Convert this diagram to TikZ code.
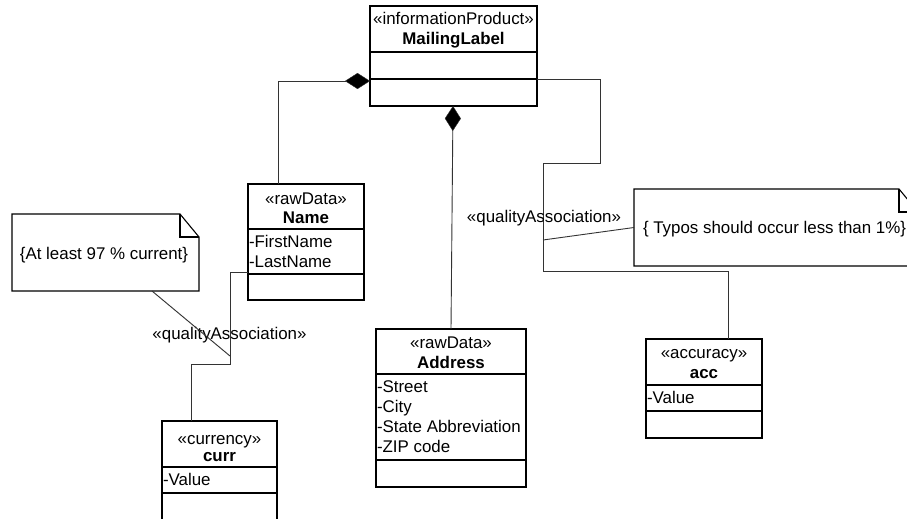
\documentclass[tikz,border=0pt]{standalone}
\usepackage{fontspec}
\setmainfont{Liberation Sans}
\usetikzlibrary{arrows.meta}

\begin{document}
\begin{tikzpicture}[x=1pt,y=-1pt,
  every node/.style={font=\fontsize{16.9}{20}\selectfont, inner sep=0pt, outer sep=0pt},
  umlbox/.style={draw=black, line width=1.2pt, anchor=north west},
  divider/.style={line width=1.2pt},
  stereo/.style={anchor=base},
  cname/.style={anchor=base, font=\fontsize{16.9}{20}\selectfont\bfseries},
  attr/.style={anchor=base west},
  conn/.style={draw=black!80, line width=0.9pt},
  comp/.style={conn, -{Diamond[length=25pt,width=16pt,fill=black,line width=0.4pt]}},
  noteframe/.style={line width=1.1pt},
  notefold/.style={line width=1.6pt},
  qlabel/.style={anchor=base}
]
\useasboundingbox (0,0) rectangle (907,519);
\fill[white] (0,0) rectangle (907,519);
\clip (0,0) rectangle (907,519);

% ---- class MailingLabel
\node[umlbox, minimum width=167pt, minimum height=100pt] (ml) at (370,6) {};
\draw[divider] (ml.west |- 0,52) -- (ml.east |- 0,52);
\draw[divider] (ml.west |- 0,79) -- (ml.east |- 0,79);
\node[stereo] (mlst) at (453.5,25) {«informationProduct»};
\node[cname]  (mlnm) at (453.5,45) {MailingLabel};

% ---- class Name
\node[umlbox, minimum width=116pt, minimum height=116pt] (name) at (248,184) {};
\draw[divider] (name.west |- 0,229) -- (name.east |- 0,229);
\draw[divider] (name.west |- 0,274) -- (name.east |- 0,274);
\node[stereo] (namest) at (306,204) {«rawData»};
\node[cname]  (namenm) at (306,223) {Name};
\node[attr] (namea1) at (249,247) {-FirstName};
\node[attr] (namea2) at (249,267) {-LastName};

% ---- class Address
\node[umlbox, minimum width=150pt, minimum height=158pt] (addr) at (376,329) {};
\draw[divider] (addr.west |- 0,374) -- (addr.east |- 0,374);
\draw[divider] (addr.west |- 0,460) -- (addr.east |- 0,460);
\node[stereo] (addrst) at (451,348) {«rawData»};
\node[cname]  (addrnm) at (451,368) {Address};
\node[attr] (addra1) at (377,392) {-Street};
\node[attr] (addra2) at (377,412) {-City};
\node[attr] (addra3) at (377,432) {-State Abbreviation};
\node[attr] (addra4) at (377,452) {-ZIP code};

% ---- class curr
\node[umlbox, minimum width=115pt, minimum height=120pt] (curr) at (162,421) {};
\draw[divider] (curr.west |- 0,467) -- (curr.east |- 0,467);
\draw[divider] (curr.west |- 0,493) -- (curr.east |- 0,493);
\node[stereo] (currst) at (219.5,444) {«currency»};
\node[cname]  (currnm) at (219.5,461) {curr};
\node[attr] (curra1) at (163,485) {-Value};

% ---- class acc
\node[umlbox, minimum width=116pt, minimum height=99pt] (acc) at (646,339) {};
\draw[divider] (acc.west |- 0,385) -- (acc.east |- 0,385);
\draw[divider] (acc.west |- 0,411) -- (acc.east |- 0,411);
\node[stereo] (accst) at (704,358) {«accuracy»};
\node[cname]  (accnm) at (704,378) {acc};
\node[attr] (acca1) at (647,403) {-Value};

% ---- composition links
\draw[comp] ([xshift=30pt]name.north west) |- ([yshift=-75pt]ml.north west);
\draw[comp] ([xshift=75pt]addr.north west) -- ([xshift=83pt]ml.south west);

% ---- quality association MailingLabel -- acc
\coordinate (qa) at (543,240);
\draw[conn] ([yshift=-73pt]ml.north east) -| (600,163) -| (543,271)
            -| ([xshift=82pt]acc.north west);
\node[qlabel] (qalabel) at (544,222) {«qualityAssociation»};

% ---- quality association Name -- curr
\coordinate (qb) at (230,356);
\draw[conn] ([yshift=-88pt]name.north west) -| (230,364)
            -| ([xshift=29pt]curr.north west);
\node[qlabel] (qblabel) at (229.5,339) {«qualityAssociation»};

% ---- constraint notes
\node[minimum width=187pt, minimum height=77pt, anchor=north west] (curnote) at (12,214) {};
\draw[noteframe] (curnote.north west) -- ([xshift=-19pt]curnote.north east)
  -- ([yshift=-23pt]curnote.north east) -- (curnote.south east)
  -- (curnote.south west) -- cycle;
\draw[notefold] ([xshift=-19pt]curnote.north east) |- ([yshift=-23pt]curnote.north east);
\node[anchor=base] (curtext) at (104,259) {\{At least 97 \% current\}};

\node[minimum width=284pt, minimum height=77pt, anchor=north west] (typnote) at (634,189) {};
\draw[noteframe] (typnote.north west) -- ([xshift=-19pt]typnote.north east)
  -- ([yshift=-23pt]typnote.north east) -- (typnote.south east)
  -- (typnote.south west) -- cycle;
\draw[notefold] ([xshift=-19pt]typnote.north east) |- ([yshift=-23pt]typnote.north east);
\node[anchor=base west] (typtext) at (643,233) {\{ Typos should occur less than 1\%\}};

% ---- note anchors
\draw[conn] ([xshift=140pt]curnote.south west) -- (qb);
\draw[conn] (qa) -- (typnote.west);
\end{tikzpicture}
\end{document}
